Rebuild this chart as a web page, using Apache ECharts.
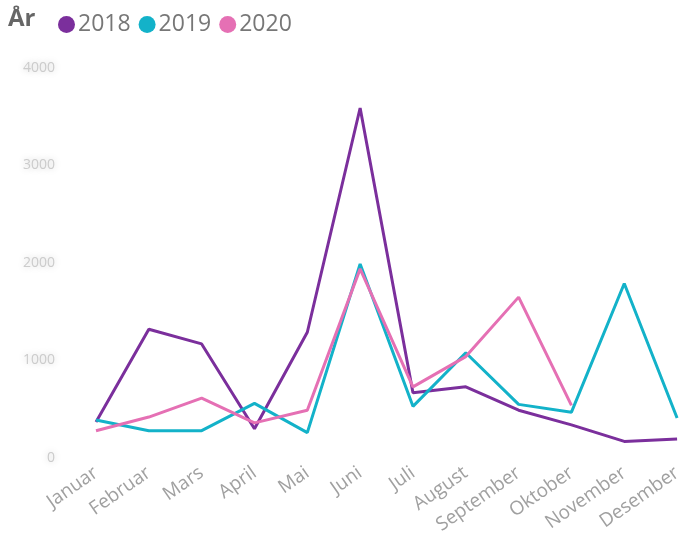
<!DOCTYPE html>
<html>
<head>
<meta charset="utf-8">
<script src="https://cdn.jsdelivr.net/npm/echarts@6/dist/echarts.min.js"></script>
<style>
  html, body { margin: 0; padding: 0; background: #fff; }
  #chart { width: 685px; height: 540px; }
</style>
</head>
<body>
<div id="chart"></div>
<script>
// months on the x axis
const months = ['Januar', 'Februar', 'Mars', 'April', 'Mai', 'Juni', 'Juli', 'August', 'September', 'Oktober', 'November', 'Desember'];

// values per year
const y2018 = [370, 1320, 1170, 300, 1290, 3590, 670, 730, 490, 340, 170, 195];
const y2019 = [390, 280, 280, 560, 260, 1990, 530, 1080, 550, 470, 1790, 410];
const y2020 = [280, 420, 615, 360, 490, 1940, 730, 1040, 1650, 540, null, null];

const years = ['2018', '2019', '2020'];
const colors = ['#7b2f9c', '#13b2c9', '#e570b4'];

const chart = echarts.init(document.getElementById('chart'));

const lineSeries = (name, data, color) => ({
  name: name,
  type: 'line',
  data: data,
  symbol: 'none',
  lineStyle: { width: 3, color: color },
  itemStyle: { color: color }
});

chart.setOption({
  animation: false,
  textStyle: { fontFamily: 'Open Sans, sans-serif' },
  graphic: [
    {
      type: 'text',
      left: 8,
      top: 7,
      style: { text: 'År', fontSize: 24, fontWeight: 'bold', fill: '#666', fontFamily: 'Open Sans, sans-serif' }
    }
  ],
  legend: {
    left: 53,
    top: 8,
    icon: 'circle',
    itemWidth: 17,
    itemHeight: 17,
    itemGap: 8,
    textStyle: { fontSize: 23, color: '#777', padding: [0, 0, 0, -2] },
    data: years
  },
  grid: { left: 96, right: 1, top: 68, bottom: 82 },
  xAxis: {
    type: 'category',
    data: months,
    boundaryGap: false,
    axisLine: { show: false },
    axisTick: { show: false },
    axisLabel: { rotate: 35, color: '#a0a0a0', fontSize: 19, margin: 13, interval: 0 }
  },
  yAxis: {
    type: 'value',
    min: 0,
    max: 4000,
    interval: 1000,
    splitLine: { show: false },
    axisLabel: {
      color: '#cccccc',
      fontSize: 14,
      margin: 41,
      formatter: (v) => String(v),
      textShadowColor: '#c8c8c8',
      textShadowBlur: 7
    }
  },
  series: [
    lineSeries(years[0], y2018, colors[0]),
    lineSeries(years[1], y2019, colors[1]),
    lineSeries(years[2], y2020, colors[2])
  ]
});
</script>
</body>
</html>
